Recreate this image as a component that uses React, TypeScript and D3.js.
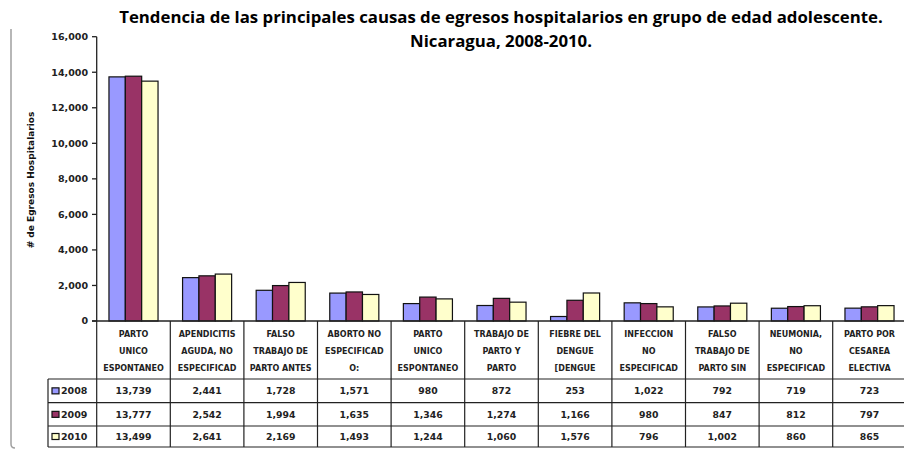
import React from 'react';
import * as d3 from 'd3';

const categoryLabels: string[][] = [
  ['PARTO', 'UNICO', 'ESPONTANEO'],
  ['APENDICITIS', 'AGUDA, NO', 'ESPECIFICAD'],
  ['FALSO', 'TRABAJO DE', 'PARTO ANTES'],
  ['ABORTO NO', 'ESPECIFICAD', 'O:'],
  ['PARTO', 'UNICO', 'ESPONTANEO'],
  ['TRABAJO DE', 'PARTO Y', 'PARTO'],
  ['FIEBRE DEL', 'DENGUE', '[DENGUE'],
  ['INFECCION', 'NO', 'ESPECIFICAD'],
  ['FALSO', 'TRABAJO DE', 'PARTO SIN'],
  ['NEUMONIA,', 'NO', 'ESPECIFICAD'],
  ['PARTO POR', 'CESAREA', 'ELECTIVA'],
];

const seriesNames = ['2008', '2009', '2010'];
const values2008 = [13739, 2441, 1728, 1571, 980, 872, 253, 1022, 792, 719, 723];
const values2009 = [13777, 2542, 1994, 1635, 1346, 1274, 1166, 980, 847, 812, 797];
const values2010 = [13499, 2641, 2169, 1493, 1244, 1060, 1576, 796, 1002, 860, 865];
const seriesColors = ['#9999FF', '#993366', '#FFFFCC'];
const yTicks = [0, 2000, 4000, 6000, 8000, 10000, 12000, 14000, 16000];

const titleLines = [
  'Tendencia de las principales causas de egresos hospitalarios en grupo de edad adolescente.',
  'Nicaragua, 2008-2010.',
];
const yAxisTitle = '# de Egresos Hospitalarios';

export default function App() {
  const W = 904;
  const H = 452;
  const plotLeft = 96.7;
  const plotRight = 906.3;
  const plotTop = 36.7;
  const plotBottom = 321;
  const rowLines = [379, 402.7, 426, 447];
  const legendLeft = 48;

  const series = [values2008, values2009, values2010];
  const idx = categoryLabels.map((_, i) => String(i));
  const x = d3.scaleBand<string>().domain(idx).range([plotLeft, plotRight]).paddingInner(0).paddingOuter(0);
  const xInner = d3
    .scaleBand<string>()
    .domain(seriesNames)
    .range([0, x.bandwidth()])
    .paddingInner(0)
    .paddingOuter(0.75);
  const y = d3.scaleLinear().domain([0, 16000]).range([plotBottom, plotTop]);
  const fmt = d3.format(',');

  const font = "'DejaVu Sans', Verdana, sans-serif";
  const lineColor = '#222';

  return (
    <svg
      width={W}
      height={H}
      viewBox={`0 0 ${W} ${H}`}
      style={{ position: 'absolute', left: 0, top: 0, display: 'block', background: '#fff' }}
    >
      {/* left gray border */}
      <path d="M11,29 L11,444 Q11,448 15,448" fill="none" stroke="#a0a0a0" strokeWidth={1.5} />

      {/* title */}
      {titleLines.map((t, i) => (
        <text
          key={i}
          x={501}
          y={23 + i * 24}
          textAnchor="middle"
          fontFamily="'Open Sans', sans-serif"
          fontWeight={700}
          fontSize={16.8}
          fill="#000"
        >
          {t}
        </text>
      ))}

      {/* y axis title */}
      <text
        transform={`translate(34,180) rotate(-90)`}
        textAnchor="middle"
        fontFamily={font}
        fontWeight={700}
        fontSize={9}
        fill="#111"
      >
        {yAxisTitle}
      </text>

      {/* y axis */}
      <line x1={plotLeft} x2={plotLeft} y1={plotTop} y2={plotBottom} stroke={lineColor} strokeWidth={1.3} />
      {yTicks.map((t) => (
        <g key={t}>
          <line x1={92} x2={plotLeft} y1={y(t)} y2={y(t)} stroke={lineColor} strokeWidth={1.3} />
          <text
            x={88}
            y={y(t)}
            dy="0.35em"
            textAnchor="end"
            fontFamily={font}
            fontWeight={700}
            fontSize={9.5}
            fill="#222"
          >
            {fmt(t)}
          </text>
        </g>
      ))}

      {/* bars */}
      {idx.map((c, ci) => (
        <g key={c} transform={`translate(${x(c)},0)`}>
          {seriesNames.map((s, si) => {
            const v = series[si][ci];
            return (
              <rect
                key={s}
                x={xInner(s)}
                y={y(v)}
                width={xInner.bandwidth()}
                height={plotBottom - y(v)}
                fill={seriesColors[si]}
                stroke="#111"
                strokeWidth={1.2}
              />
            );
          })}
        </g>
      ))}

      {/* table horizontal lines */}
      <line x1={92} x2={plotRight} y1={plotBottom} y2={plotBottom} stroke={lineColor} strokeWidth={1.3} />
      {rowLines.map((ry, i) => (
        <line key={i} x1={legendLeft} x2={plotRight} y1={ry} y2={ry} stroke={lineColor} strokeWidth={1.2} />
      ))}
      {/* table vertical lines */}
      <line x1={legendLeft} x2={legendLeft} y1={rowLines[0]} y2={rowLines[3]} stroke={lineColor} strokeWidth={1.2} />
      {idx.map((c) => (
        <line
          key={c}
          x1={(x(c) as number) + x.bandwidth()}
          x2={(x(c) as number) + x.bandwidth()}
          y1={plotBottom}
          y2={rowLines[3]}
          stroke={lineColor}
          strokeWidth={1.2}
        />
      ))}
      <line x1={plotLeft} x2={plotLeft} y1={plotBottom} y2={rowLines[3]} stroke={lineColor} strokeWidth={1.2} />

      {/* category labels */}
      {idx.map((c, ci) => (
        <text
          key={c}
          textAnchor="middle"
          fontFamily={font}
          fontWeight={700}
          fontSize={8}
          fill="#222"
        >
          {categoryLabels[ci].map((ln, li) => (
            <tspan key={li} x={(x(c) as number) + x.bandwidth() / 2} y={337 + li * 17}>
              {ln}
            </tspan>
          ))}
        </text>
      ))}

      {/* legend cells and values */}
      {seriesNames.map((s, si) => {
        const cy = (rowLines[si] + rowLines[si + 1]) / 2;
        return (
          <g key={s}>
            <rect x={52} y={cy - 3} width={7} height={6} fill={seriesColors[si]} stroke="#111" strokeWidth={1.2} />
            <text x={61} y={cy} dy="0.36em" fontFamily={font} fontWeight={700} fontSize={9.5} fill="#222">
              {s}
            </text>
            {idx.map((c, ci) => (
              <text
                key={c}
                x={(x(c) as number) + x.bandwidth() / 2}
                y={cy}
                dy="0.36em"
                textAnchor="middle"
                fontFamily={font}
                fontWeight={700}
                fontSize={9.3}
                fill="#222"
              >
                {fmt(series[si][ci])}
              </text>
            ))}
          </g>
        );
      })}
    </svg>
  );
}
